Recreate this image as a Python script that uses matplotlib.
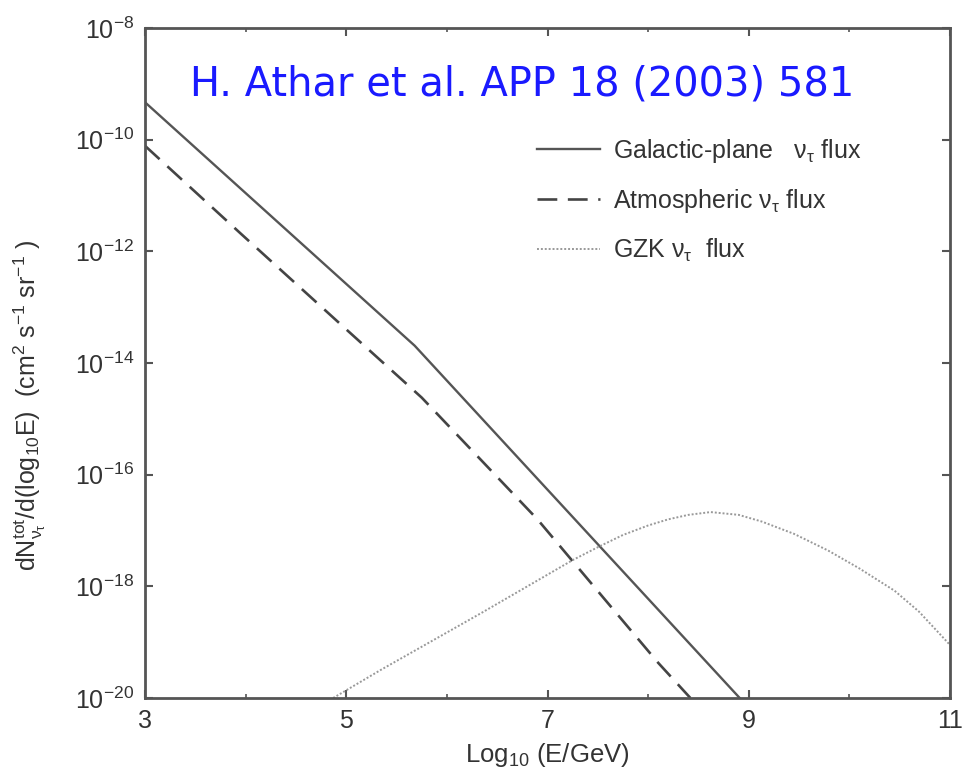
import matplotlib
matplotlib.use("Agg")
import matplotlib.pyplot as plt
from matplotlib.ticker import FixedLocator, LogFormatterSciNotation, NullLocator
import numpy as np

plt.rcParams["font.family"] = ["Liberation Sans", "DejaVu Sans"]
plt.rcParams["mathtext.fontset"] = "custom"
plt.rcParams["mathtext.rm"] = "Liberation Sans"
plt.rcParams["mathtext.it"] = "Liberation Sans"
plt.rcParams["mathtext.bf"] = "Liberation Sans:bold"

# log10(E/GeV) and log10(flux) for each tau-neutrino flux
galactic_logE = [3.0, 5.68, 8.91]
galactic_logF = [-9.33, -13.69, -20.0]

atmos_logE = [3.0, 3.95, 4.94, 5.75, 6.90, 7.46, 8.10, 8.42]
atmos_logF = [-10.11, -11.68, -13.30, -14.62, -16.80, -18.00, -19.37, -20.0]

gzk_logE = [4.87, 5.34, 5.85, 6.34, 6.80, 7.25, 7.51, 7.75, 8.00, 8.20, 8.40, 8.62,
            8.90, 9.13, 9.45, 9.79, 10.10, 10.45, 10.69, 11.0]
gzk_logF = [-20.0, -19.5, -18.98, -18.48, -18.0, -17.53, -17.29, -17.08, -16.91, -16.80,
            -16.72, -16.67, -16.72, -16.84, -17.06, -17.36, -17.68, -18.08, -18.45, -19.05]

labels = [r"Galactic-plane   $\nu_{\tau}$ flux",
          r"Atmospheric $\nu_{\tau}$ flux",
          r"GZK $\nu_{\tau}$  flux"]

x_major = [3, 5, 7, 9, 11]
x_minor = [4, 6, 8, 10]
y_major_exp = [-20, -18, -16, -14, -12, -10, -8]

fig = plt.figure(figsize=(9.69, 7.80), dpi=100)
ax = fig.add_axes([145 / 969, 1 - 698 / 780, 805 / 969, 670 / 780])

ax.plot(galactic_logE, 10.0 ** np.array(galactic_logF), color="#555555", lw=1.7,
        label=labels[0])
ax.plot(atmos_logE, 10.0 ** np.array(atmos_logF), color="#444444", lw=1.9,
        dashes=(7.5, 4), label=labels[1])
ax.plot(gzk_logE, 10.0 ** np.array(gzk_logF), color="#999999", lw=1.4,
        linestyle=(0, (1, 1)), label=labels[2])

ax.set_yscale("log")
ax.set_xlim(3, 11)
ax.set_ylim(1e-20, 1e-8)

ax.xaxis.set_major_locator(FixedLocator(x_major))
ax.xaxis.set_minor_locator(FixedLocator(x_minor))
ax.yaxis.set_major_locator(FixedLocator([10.0 ** e for e in y_major_exp]))
ax.yaxis.set_minor_locator(NullLocator())
ax.yaxis.set_major_formatter(LogFormatterSciNotation())

ax.tick_params(which="both", direction="in", top=True, right=True,
               color="#555555", labelcolor="#333333")
ax.tick_params(which="major", length=6, width=1.5, labelsize=18, pad=8)
ax.tick_params(which="minor", length=3, width=1.2)
for s in ax.spines.values():
    s.set_color("#555555")
    s.set_linewidth(2.0)

ax.set_xlabel(r"Log$_{10}$ (E/GeV)", fontsize=18.5, color="#333333", labelpad=6)
ax.set_ylabel(r"dN$^{tot}_{\nu_{\tau}}$/d(log$_{10}$E)  (cm$^{2}$ s$^{-1}$ sr$^{-1}$ )",
              fontsize=18, color="#333333")
ax.yaxis.set_label_coords(-0.120, 0.437)

leg = ax.legend(loc="upper left", bbox_to_anchor=(0.487, 0.838), frameon=False,
                fontsize=18, handlelength=2.5, handletextpad=0.52, labelspacing=0.88,
                borderpad=0, borderaxespad=0, labelcolor="#333333")

ax.text(0.056, 0.915, "H. Athar et al. APP 18 (2003) 581", transform=ax.transAxes,
        color="#1a1aff", fontsize=28.8, ha="left", va="center",
        family=["DejaVu Sans"])

fig.savefig("out.png", dpi=100)
